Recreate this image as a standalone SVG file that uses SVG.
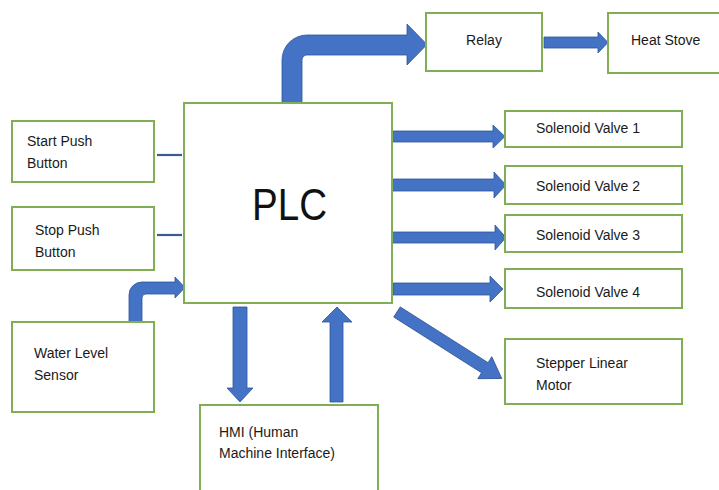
<svg xmlns="http://www.w3.org/2000/svg" width="719" height="490" viewBox="0 0 719 490">
<style>
.box{fill:#fff;stroke:#7FAE55;stroke-width:2}
.arr{fill:#4472C4;stroke:#2F5597;stroke-width:0.8}
.ln{stroke:#3B5C8F;stroke-width:2.2}
.t{font-family:"Liberation Sans",Arial,sans-serif;font-size:14px;fill:#1a1a1a}
.big{font-family:"Liberation Sans",Arial,sans-serif;font-size:44px;fill:#111}
</style>
<rect width="719" height="490" fill="#fff"/>
<g id="connectors">
<path class="arr" d="M282,103 V60 A25,25 0 0 1 307,35 H407 V24 L427,44.5 L407,65 V55 H307 A5,5 0 0 0 302,60 V103 Z"/>
<path class="arr" d="M544,37 H598 V32 L608,42.5 L598,53 V48 H544 Z"/>
<path class="arr" d="M392,131 H493 V125 L505,136.5 L493,148 V142 H392 Z"/>
<path class="arr" d="M392,179 H494 V172 L506,185 L494,198 V191 H392 Z"/>
<path class="arr" d="M392,232 H495 V225 L506,237.5 L495,250 V243 H392 Z"/>
<path class="arr" d="M393,283 H490 V276 L503,289 L490,302 V295 H393 Z"/>
<path class="arr" transform="translate(397,312) rotate(32.4)" d="M0,-6 H104 V-13 L124,0 L104,13 V6 H0 Z"/>
<path class="arr" d="M129,322 V295 A13,13 0 0 1 142,282 H175 V277 L185,287.5 L175,298 V294 H146 A4,4 0 0 0 142,298 V322 Z"/>
<path class="arr" d="M233,307 H247 V388 H253 L240,402 L227,388 H233 Z"/>
<path class="arr" d="M330,402 V322 H322 L337,307 L352,322 H343 V402 Z"/>
<line class="ln" x1="157" y1="155" x2="182" y2="155"/>
<line class="ln" x1="157" y1="235" x2="182" y2="235"/>
</g>
<g id="plc"><rect class="box" x="184" y="103" width="208" height="200"/>
<text class="big" x="252" y="220" textLength="75" lengthAdjust="spacingAndGlyphs">PLC</text></g>
<g id="start"><rect class="box" x="12" y="121" width="142" height="61"/>
<text class="t" x="27" y="146">Start Push</text><text class="t" x="27" y="168">Button</text></g>
<g id="stop"><rect class="box" x="12" y="207" width="142" height="63"/>
<text class="t" x="35" y="235">Stop Push</text><text class="t" x="35" y="257">Button</text></g>
<g id="water"><rect class="box" x="12" y="322" width="142" height="90"/>
<text class="t" x="34" y="358">Water Level</text><text class="t" x="34" y="380">Sensor</text></g>
<g id="hmi"><rect class="box" x="200" y="405" width="178" height="95"/>
<text class="t" x="219" y="437">HMI (Human</text><text class="t" x="219" y="458">Machine Interface)</text></g>
<g id="relay"><rect class="box" x="426" y="13" width="116" height="58"/>
<text class="t" x="484" y="45" text-anchor="middle">Relay</text></g>
<g id="heat"><rect class="box" x="608" y="13" width="120" height="60"/>
<text class="t" x="631" y="45">Heat Stove</text></g>
<g id="sv1"><rect class="box" x="505" y="111" width="177" height="36"/>
<text class="t" x="536" y="133">Solenoid Valve 1</text></g>
<g id="sv2"><rect class="box" x="505" y="166" width="177" height="38"/>
<text class="t" x="536" y="191">Solenoid Valve 2</text></g>
<g id="sv3"><rect class="box" x="505" y="215" width="177" height="37"/>
<text class="t" x="536" y="240">Solenoid Valve 3</text></g>
<g id="sv4"><rect class="box" x="505" y="269" width="177" height="39"/>
<text class="t" x="536" y="297">Solenoid Valve 4</text></g>
<g id="stepper"><rect class="box" x="505" y="339" width="177" height="65"/>
<text class="t" x="536" y="368">Stepper Linear</text><text class="t" x="536" y="390">Motor</text></g>
</svg>
